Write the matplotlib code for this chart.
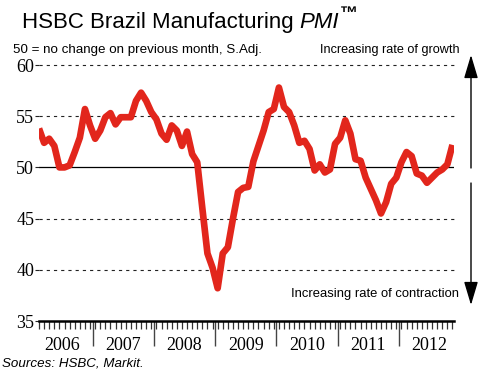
import matplotlib
matplotlib.use("Agg")
import matplotlib.pyplot as plt
import numpy as np

plt.rcParams['lines.scale_dashes'] = False

# Monthly PMI readings, Feb 2006 .. Nov 2012
pmi = [53.8, 52.4, 52.8, 52.1, 50.0, 50.0, 50.2, 51.5, 52.9, 55.7, 54.1,
       52.8, 53.6, 54.9, 55.3, 54.2, 54.9, 54.9, 54.9, 56.5, 57.3, 56.5, 55.4, 54.7,
       53.3, 52.7, 54.1, 53.6, 52.1, 53.5, 51.3, 50.5, 46.0, 41.6, 40.2, 38.2,
       41.6, 42.2, 45.0, 47.6, 48.0, 48.1, 50.6, 52.1, 53.6, 55.4, 55.7, 57.8,
       55.9, 55.4, 54.1, 52.4, 52.6, 51.8, 49.7, 50.3, 49.5, 49.8, 52.3, 52.9,
       54.6, 53.3, 50.8, 50.65, 49.0, 47.9, 46.8, 45.5, 46.6, 48.4, 49.0, 50.5,
       51.5, 51.1, 49.4, 49.2, 48.5, 49.0, 49.5, 49.8, 50.3, 52.2]
years = ['2006', '2007', '2008', '2009', '2010', '2011', '2012']
yticks = [35, 40, 45, 50, 55, 60]

W, H = 482, 375
fig = plt.figure(figsize=(W / 100, H / 100), dpi=100)
ax = fig.add_axes([39 / W, 1 - 321 / H, (454 - 39) / W, (321 - 65) / H])

x = np.arange(len(pmi))
ax.set_xlim(0, 81.3)
ax.set_ylim(35, 60)

for v in [40, 45, 55, 60]:
    ax.axhline(v, color='#222222', lw=0.8, dashes=(2.3, 2.9), zorder=1, clip_on=False)
ax.axhline(50, color='black', lw=0.9, zorder=1)

ax.plot(x, pmi, color='#e2261c', lw=4.8, solid_joinstyle='round',
        solid_capstyle='butt', zorder=3)

for s in ['top', 'right', 'left']:
    ax.spines[s].set_visible(False)
ax.spines['bottom'].set_linewidth(1.8)

ax.set_yticks(yticks)
ax.set_yticklabels([str(t) for t in yticks], fontfamily='Liberation Serif', fontsize=13)
ax.tick_params(axis='y', length=3, width=0.8, pad=0.5, color='#222222')

year_bounds = [10.5 + 12 * k for k in range(6)]
ax.set_xticks(year_bounds)
ax.set_xticklabels([])
ax.set_xticks(np.arange(0, 82, 1.0), minor=True)
ax.tick_params(axis='x', which='major', length=18, width=1.0, color='#444444', direction='out')
ax.tick_params(axis='x', which='minor', length=6, width=0.9, color='#333333', direction='out')

trans = matplotlib.transforms.blended_transform_factory(ax.transData, fig.transFigure)
for k, y in enumerate(years):
    ax.text(4.5 + 12 * k, (H - 350) / H, y, transform=trans, ha='center', va='baseline',
            fontfamily='Liberation Serif', fontsize=13)

# Title
t1 = fig.text(22 / W, (H - 28) / H, 'HSBC Brazil Manufacturing ', fontfamily='Liberation Sans',
              fontsize=16, va='baseline', ha='left')
fig.canvas.draw()
r = fig.canvas.get_renderer()
bb = t1.get_window_extent(r)
t2 = fig.text(bb.x1 / W, (H - 28) / H, 'PMI', fontfamily='Liberation Sans', style='italic',
              fontsize=16, va='baseline', ha='left')
bb2 = t2.get_window_extent(r)
fig.text((bb2.x1 + 1) / W, (H - 28 + 9) / H, '\u2122', fontfamily='Liberation Sans',
         fontweight='bold', fontsize=13, va='baseline', ha='left')

fig.text(13 / W, (H - 53) / H, '50 = no change on previous month, S.Adj.',
         fontfamily='Liberation Sans', fontsize=9.6, va='baseline', ha='left')
fig.text(460 / W, (H - 53) / H, 'Increasing rate of growth',
         fontfamily='Liberation Sans', fontsize=9.1, va='baseline', ha='right')
fig.text(459 / W, (H - 297) / H, 'Increasing rate of contraction',
         fontfamily='Liberation Sans', fontsize=9.4, va='baseline', ha='right')
fig.text(2 / W, (H - 367) / H, 'Sources: HSBC, Markit.',
         fontfamily='Liberation Sans', fontsize=9.6, style='italic', va='baseline', ha='left')

astyle = '-|>,head_length=1.44,head_width=0.43'
ax.annotate('', xy=(471, H - 55), xytext=(471, H - 168), xycoords='figure pixels',
            textcoords='figure pixels',
            arrowprops=dict(arrowstyle=astyle, mutation_scale=10, color='black', lw=1.0,
                            shrinkA=0, shrinkB=0), annotation_clip=False)
ax.annotate('', xy=(471, H - 305), xytext=(471, H - 183), xycoords='figure pixels',
            textcoords='figure pixels',
            arrowprops=dict(arrowstyle=astyle, mutation_scale=10, color='black', lw=1.0,
                            shrinkA=0, shrinkB=0), annotation_clip=False)

fig.savefig('out.png', dpi=100)
